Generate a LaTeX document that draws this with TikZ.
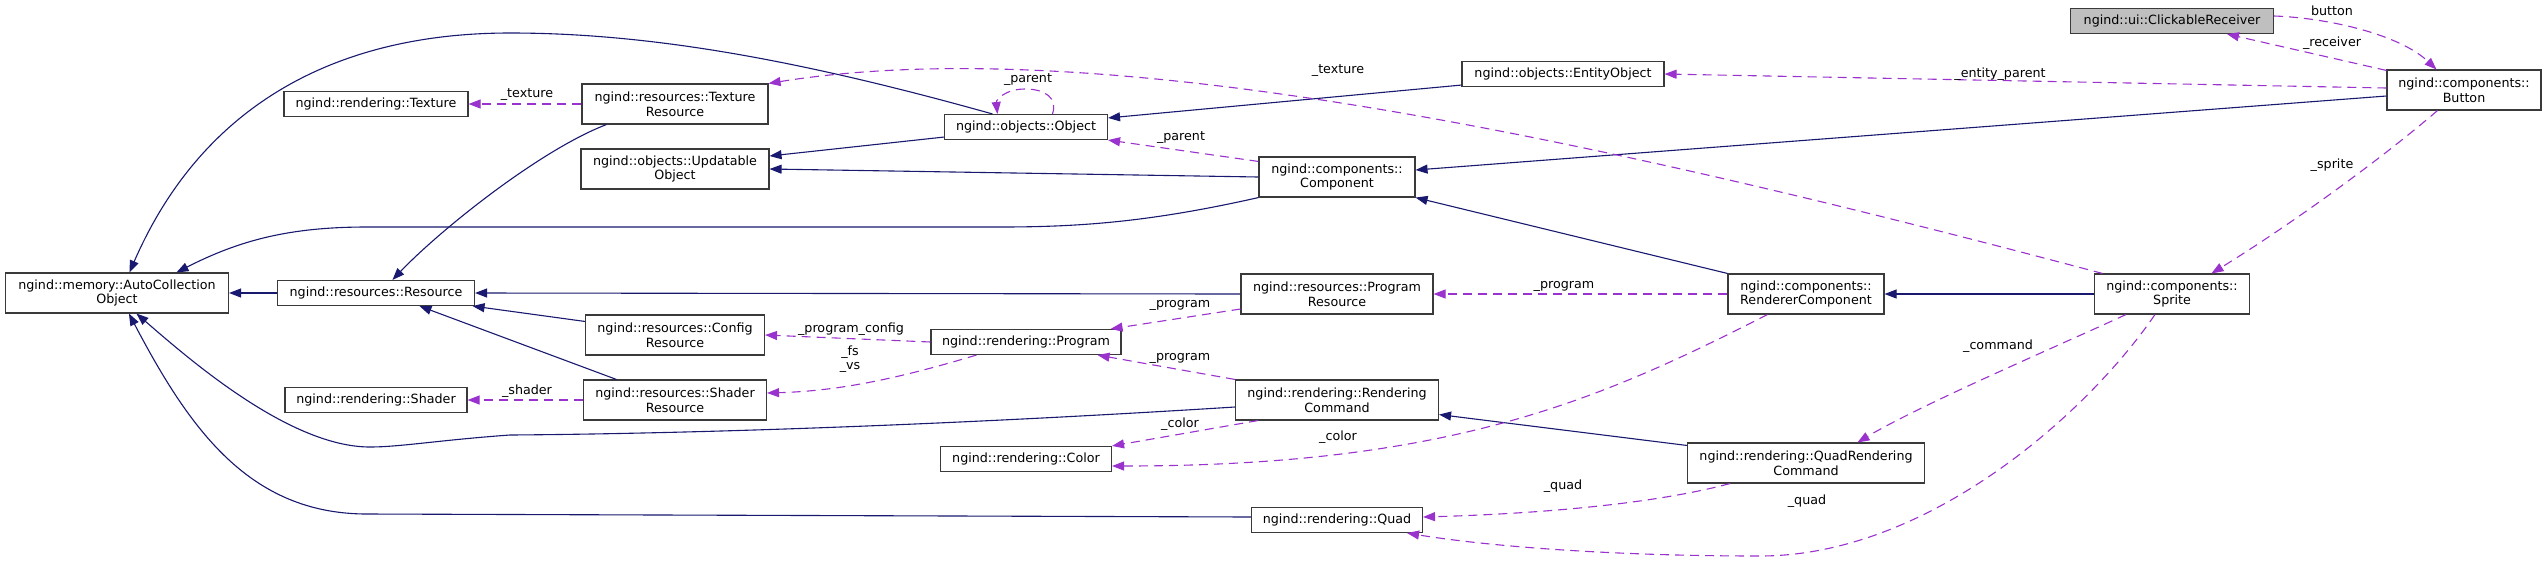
\documentclass[tikz,border=0pt]{standalone}
\usepackage{fontspec}
\setmainfont{DejaVu Sans}
\usetikzlibrary{arrows.meta,calc}
\definecolor{inhc}{HTML}{191970}
\definecolor{usec}{HTML}{9A32CD}
\definecolor{boxc}{HTML}{3A3A3A}
\definecolor{rootfill}{HTML}{BFBFBF}
\begin{document}
\begin{tikzpicture}[x=1pt,y=-1pt,font=\fontsize{12.7}{14.6}\selectfont,
  cls/.style={draw=boxc,line width=1.1pt,fill=white,inner sep=0pt,align=center,minimum height=25pt},
  cls2/.style={cls,minimum height=40pt},
  inh/.style={draw=inhc,line width=1.1pt,-{Triangle[length=12pt,width=9pt]}},
  use/.style={draw=usec,line width=1.1pt,dash pattern=on 9pt off 6pt,-{Triangle[length=12pt,width=9pt]}},
  lbl/.style={inner sep=0pt,text=black}]
\fill[white] (0,0) rectangle (2547,566);
\useasboundingbox (0,0) rectangle (2547,566);

% nodes
\node[cls2,minimum width=223pt] (auto) at (117,293) {ngind::memory::AutoCollection\\Object};
\node[cls,minimum width=184pt] (rtex) at (376,104) {ngind::rendering::Texture};
\node[cls,minimum width=197pt] (res) at (376,293) {ngind::resources::Resource};
\node[cls,minimum width=182pt] (rshader) at (376,400) {ngind::rendering::Shader};
\node[cls2,minimum width=186pt] (texres) at (675,104) {ngind::resources::Texture\\Resource};
\node[cls2,minimum width=188pt] (upd) at (675,169) {ngind::objects::Updatable\\Object};
\node[cls,minimum width=163pt] (obj) at (1026,127) {ngind::objects::Object};
\node[cls2,minimum width=179pt] (cfg) at (675,335) {ngind::resources::Config\\Resource};
\node[cls2,minimum width=183pt] (shres) at (675,400) {ngind::resources::Shader\\Resource};
\node[cls,minimum width=190pt] (prog) at (1026,342) {ngind::rendering::Program};
\node[cls,minimum width=171pt] (color) at (1026,459) {ngind::rendering::Color};
\node[cls,minimum width=202pt] (ent) at (1563,74) {ngind::objects::EntityObject};
\node[cls2,minimum width=156pt] (comp) at (1337,177) {ngind::components::\\Component};
\node[cls2,minimum width=192pt] (progres) at (1337,294) {ngind::resources::Program\\Resource};
\node[cls2,minimum width=203pt] (rcmd) at (1337,400) {ngind::rendering::Rendering\\Command};
\node[cls,minimum width=171pt] (quad) at (1337,520) {ngind::rendering::Quad};
\node[cls2,minimum width=156pt] (rcomp) at (1806,294) {ngind::components::\\RendererComponent};
\node[cls2,minimum width=237pt] (qcmd) at (1806,463) {ngind::rendering::QuadRendering\\Command};
\node[cls,minimum width=203pt,fill=rootfill] (click) at (2172,21) {ngind::ui::ClickableReceiver};
\node[cls2,minimum width=154pt] (btn) at (2464,90) {ngind::components::\\Button};
\node[cls2,minimum width=155pt] (sprite) at (2172,294) {ngind::components::\\Sprite};

% inheritance edges
\draw[inh] ($(obj.north west)+(48.5,0)$) .. controls (800,60) and (650,33) .. (510,33) .. controls (330,33) and (200,110) .. ($(auto.north west)+(124.5,0)$);
\draw[inh] (comp.south west) .. controls (1150,222) and (1080,227) .. (1000,227) -- (367,227) .. controls (290,227) and (240,240) .. ($(auto.north west)+(171.5,0)$);
\draw[inh] (res.west) -- (auto.east);
\draw[inh] ($(rcmd.west)+(0,7)$) .. controls (900,428) and (650,434) .. (510,435) .. controls (440,440) and (400,447) .. (370,447) .. controls (290,447) and (190,360) .. ($(auto.south west)+(131.5,0)$);
\draw[inh] ($(quad.west)+(0,-3)$) -- (367,514) .. controls (250,514) and (190,430) .. ($(auto.south west)+(124,0)$);
\draw[inh] ($(texres.south west)+(25,0)$) .. controls (540,150) and (440,230) .. ($(res.north west)+(115.5,0)$);
\draw[inh] ($(cfg.north west)+(0,7)$) -- ($(res.south east)+(-2.5,0)$);
\draw[inh] ($(shres.north west)+(33.5,0)$) -- ($(res.south west)+(142.5,0)$);
\draw[inh] (progres.west) -- (res.east);
\draw[inh] ($(obj.south west)+(0,-3)$) -- ($(upd.east)+(0,-13)$);
\draw[inh] (comp.west) -- (upd.east);
\draw[inh] ($(ent.south west)+(0,-2)$) -- ($(obj.north east)+(0,4)$);
\draw[inh] ($(btn.west)+(0,6)$) -- ($(comp.east)+(0,-7)$);
\draw[inh] (rcomp.north west) -- (comp.south east);
\draw[inh] (sprite.west) -- (rcomp.east);
\draw[inh] ($(qcmd.north west)+(0,3)$) -- ($(rcmd.south east)+(0,-6)$);

% usage edges
\draw[use] (texres.west) -- (rtex.east);
\node[lbl] (l1) at (527,95) {\_texture};
\draw[use] (shres.west) -- (rshader.east);
\node[lbl] (l2) at (527,391) {\_shader};
\draw[use] ($(obj.north west)+(108.5,0)$) .. controls (1058,98) and (1045,89) .. (1025,89) .. controls (1005,89) and (996,100) .. ($(obj.north west)+(53.5,0)$);
\node[lbl] (l3) at (1028,80) {\_parent};
\draw[use] ($(comp.north west)+(0,5)$) -- (obj.south east);
\node[lbl] (l4) at (1181,138) {\_parent};
\draw[use] ($(sprite.north west)+(8.5,0)$) .. controls (1600,140) and (1100,30) .. (texres.north east);
\node[lbl] (l5) at (1338,71) {\_texture};
\draw[use] ($(progres.west)+(0,15)$) -- ($(prog.north east)+(-11,0)$);
\node[lbl] (l6) at (1180,305) {\_program};
\draw[use] (rcmd.north west) -- ($(prog.south east)+(-24,0)$);
\node[lbl] (l7) at (1180,358) {\_program};
\draw[use] (prog.west) -- (cfg.east);
\node[lbl] (l8) at (851,329) {\_program\_config};
\draw[use] ($(prog.south west)+(46,0)$) .. controls (900,378) and (840,391) .. ($(shres.east)+(0,-7)$);
\node[lbl,align=center] (l9) at (850,359) {\_fs\\\_vs};
\draw[use] ($(rcmd.south west)+(23,0)$) -- (color.north east);
\node[lbl] (l10) at (1180,424) {\_color};
\draw[use] ($(rcomp.south west)+(40,0)$) .. controls (1600,400) and (1450,466) .. ($(color.east)+(0,7)$);
\node[lbl] (l11) at (1338,437) {\_color};
\draw[use] (rcomp.west) -- (progres.east);
\node[lbl] (l12) at (1564,286) {\_program};
\draw[use] ($(qcmd.south west)+(43,0)$) .. controls (1650,505) and (1530,514) .. ($(quad.east)+(0,-3)$);
\node[lbl] (l13) at (1563,486) {\_quad};
\draw[use] ($(sprite.south west)+(61,0)$) .. controls (2090,410) and (1930,556) .. (1760,556) .. controls (1600,556) and (1480,545) .. ($(quad.south east)+(-16,0)$);
\node[lbl] (l14) at (1807,501) {\_quad};
\draw[use] ($(sprite.south west)+(32,0)$) .. controls (2060,345) and (1920,405) .. ($(qcmd.north west)+(170.5,0)$);
\node[lbl] (l15) at (1998,346) {\_command};
\draw[use] ($(btn.south west)+(51,0)$) .. controls (2380,160) and (2290,225) .. ($(sprite.north west)+(117.5,0)$);
\node[lbl] (l16) at (2332,165) {\_sprite};
\draw[use] ($(btn.west)+(0,-2)$) -- (ent.east);
\node[lbl] (l17) at (2000,74) {\_entity\_parent};
\draw[use] ($(btn.north west)+(0,1)$) -- ($(click.south west)+(157,0)$);
\node[lbl] (l18) at (2332,43) {\_receiver};
\draw[use] ($(click.east)+(0,-5)$) .. controls (2330,18) and (2400,35) .. ($(btn.north west)+(50,0)$);
\node[lbl] (l19) at (2332,11) {button};
\end{tikzpicture}
\end{document}
